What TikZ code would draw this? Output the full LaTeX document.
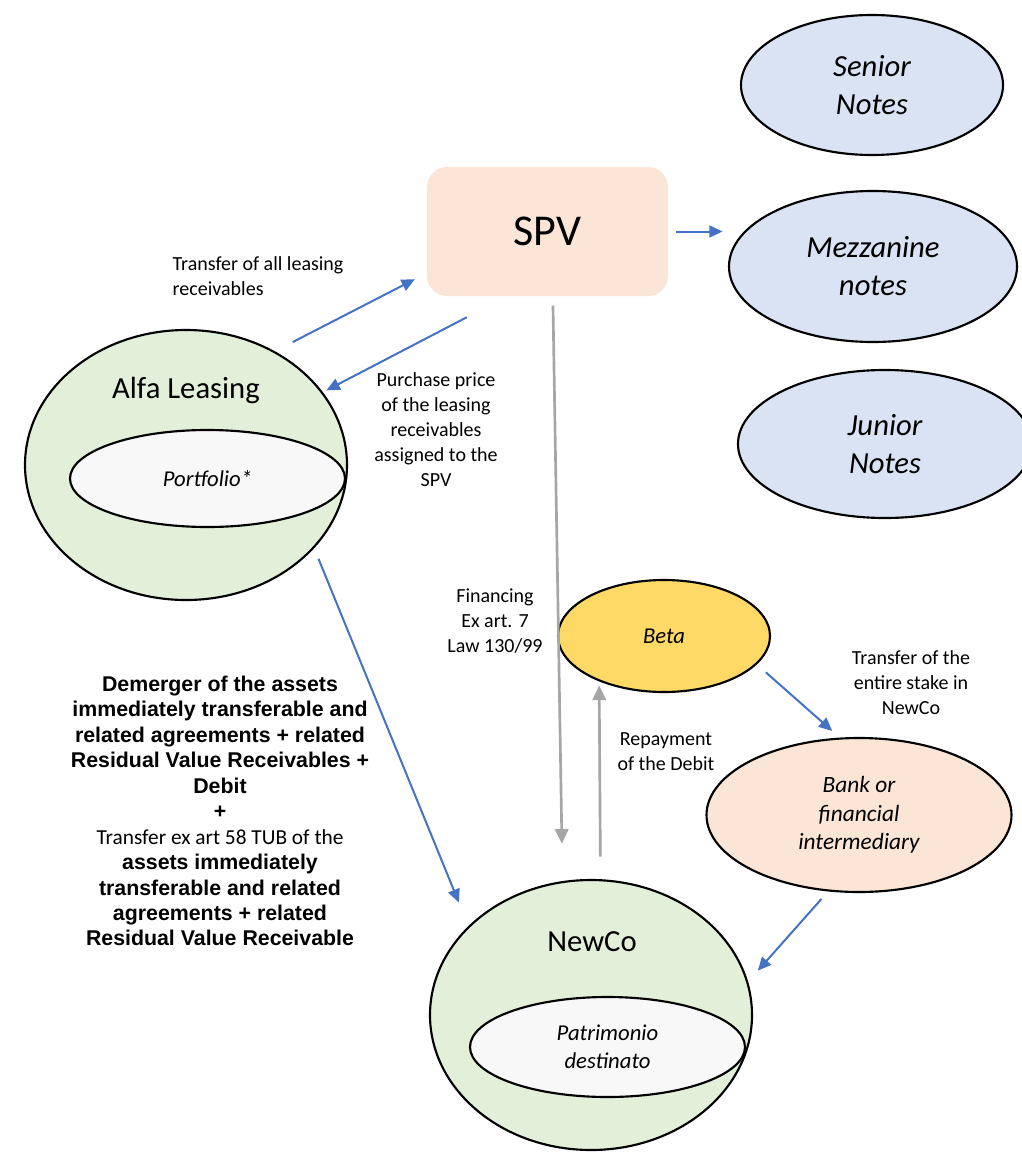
\documentclass[tikz,border=0pt]{standalone}
\usepackage{fontspec}
\setmainfont{Carlito}
\newfontfamily\arialfont{Liberation Sans}
\usepackage{xcolor}
\usepackage{tikz}
\usetikzlibrary{arrows.meta,shapes.geometric}

\definecolor{lineblue}{HTML}{4472C4}
\definecolor{linegray}{HTML}{A6A6A6}
\definecolor{notesblue}{HTML}{DAE3F3}
\definecolor{leafgreen}{HTML}{E2F0D9}
\definecolor{peach}{HTML}{FBE5D6}
\definecolor{betayellow}{HTML}{FFD966}
\definecolor{palewhite}{HTML}{F8F8F8}

\begin{document}
\begin{tikzpicture}[x=0.75pt, y=-0.75pt,
	ell/.style={shape=ellipse, draw=black, line width=1.6pt, inner sep=0pt, align=center},
	notes/.style={ell, fill=notesblue, font=\fontsize{23}{28.5}\selectfont\itshape},
	lbl/.style={align=center, font=\fontsize{15}{18.75}\selectfont},
	bluearr/.style={draw=lineblue, line width=1.5pt, -{Triangle[length=10pt,width=9pt]}},
	grayarr/.style={draw=linegray, line width=2pt, -{Triangle[length=11pt,width=10pt]}}]

		\useasboundingbox (0,0) rectangle (1021,1152);

		\node[notes, minimum width=196.5pt, minimum height=105pt] (senior) at (872,85) {Senior\\Notes};
		\node[notes, minimum width=216pt, minimum height=113.25pt] (mezz) at (873,266.5) {Mezzanine\\notes};
		\node[notes, minimum width=220.5pt, minimum height=111pt] (junior) at (885,444) {Junior\\Notes};

		\node[shape=rectangle, fill=peach, rounded corners=15pt, minimum width=180.75pt, minimum height=96.75pt, font=\fontsize{33}{38}\selectfont] (spv) at (547.5,231.5) {SPV};

		\node[ell, fill=leafgreen, minimum width=241.5pt, minimum height=202.5pt] (alfa) at (186,465) {};
		\node[font=\fontsize{23}{28}\selectfont] (alfatxt) at (186,390) {Alfa Leasing};
		\node[ell, fill=palewhite, minimum width=206.25pt, minimum height=72.75pt, font=\fontsize{17}{21}\selectfont\itshape] (portfolio) at (207.5,478.5) {Portfolio*};

		\node[ell, fill=leafgreen, minimum width=241.5pt, minimum height=202.5pt] (newco) at (591,1015) {};
		\node[font=\fontsize{23}{28}\selectfont] (newcotxt) at (592,942) {NewCo};
		\node[ell, fill=palewhite, minimum width=206.25pt, minimum height=75pt, font=\fontsize{17}{21}\selectfont\itshape] (patrimonio) at (607.5,1047) {Patrimonio\\destinato};

		\node[ell, fill=betayellow, minimum width=159pt, minimum height=84pt, font=\fontsize{17}{21}\selectfont\itshape] (beta) at (664,636) {Beta};
		\node[ell, fill=peach, minimum width=228.75pt, minimum height=115.5pt, font=\fontsize{17.5}{21.4}\selectfont\itshape] (bank) at (859,815) {Bank or\\financial\\intermediary};

		\node[lbl, align=left, anchor=west] (transferlbl) at (168,276) {Transfer of all leasing\\receivables};
		\node[lbl] (pricelbl) at (436,430) {Purchase price\\of the leasing\\receivables\\assigned to the\\SPV};
		\node[lbl] (financelbl) at (495,621) {Financing\\Ex art. 7\\Law 130/99};
		\node[lbl] (repaylbl) at (666,752) {Repayment\\of the Debit};
		\node[lbl] (stakelbl) at (911,683) {Transfer of the\\entire stake in\\NewCo};
		\node[align=center, font=\arialfont\bfseries\fontsize{16}{19.1}\selectfont] (demergerlbl) at (220,811) {Demerger of the assets\\immediately transferable and\\related agreements + related\\Residual Value Receivables +\\Debit\\+\\{\rmfamily\mdseries Transfer ex art 58 TUB of the}\\assets immediately\\transferable and related\\agreements + related\\Residual Value Receivable};

		\draw [bluearr, shorten <=15pt, shorten >=10pt] (alfa.52) -- (spv.199);
		\draw [bluearr, shorten <=34pt, shorten >=3pt] (spv.238) -- (alfa.28);
		\draw [bluearr, shorten <=6pt, shorten >=4pt] (spv.east) -- (spv.east -| mezz.west);
		\draw [grayarr, shorten <=7pt, shorten >=28pt] ([xshift=4pt]spv.south) -- (newco.102);
		\draw [grayarr, shorten <=17pt, shorten >=3pt] (newco.86) -- (beta.215);
		\draw [bluearr, shorten <=9pt, shorten >=7.5pt] (beta.343) -- (bank.104);
		\draw [bluearr, shorten <=7.5pt, shorten >=11pt] (bank.248) -- (newco.12);
		\draw [bluearr, shorten <=8.6pt, shorten >=19pt] (alfa.327) -- (newco.144);

\end{tikzpicture}
\end{document}
